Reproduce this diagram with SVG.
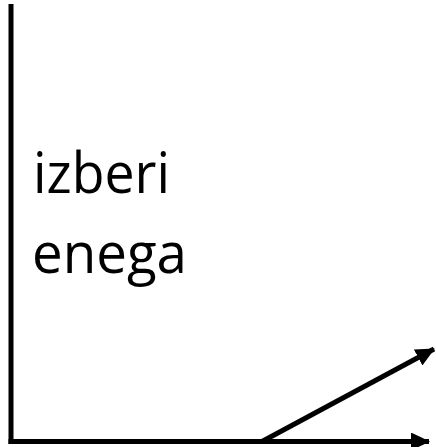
<svg xmlns="http://www.w3.org/2000/svg" width="436" height="447" viewBox="0 0 436 447">
<defs>
<marker id="ah" markerUnits="userSpaceOnUse" markerWidth="20" markerHeight="18" refX="18" refY="9" orient="auto" viewBox="0 0 20 18">
<path d="M0,0 L19,9 L0,18 Z" fill="#000"/>
</marker>
<style>
.ln{stroke:#000;stroke-width:5;fill:none}
.lbl{font-family:"Open Sans","Noto Sans",sans-serif;font-size:56px;fill:#000}
</style>
</defs>
<rect width="436" height="447" fill="#fff"/>
<g id="connectors">
<line class="ln" x1="11" y1="4" x2="11" y2="444"/>
<line class="ln" x1="8.5" y1="441.5" x2="429" y2="441.5" marker-end="url(#ah)"/>
<line class="ln" x1="262" y1="441.5" x2="434" y2="349" marker-end="url(#ah)"/>
</g>
<g id="label">
<text class="lbl" x="33" y="193" textLength="137" lengthAdjust="spacingAndGlyphs">izberi</text>
<text class="lbl" x="32" y="273" textLength="155" lengthAdjust="spacingAndGlyphs">enega</text>
</g>
</svg>
